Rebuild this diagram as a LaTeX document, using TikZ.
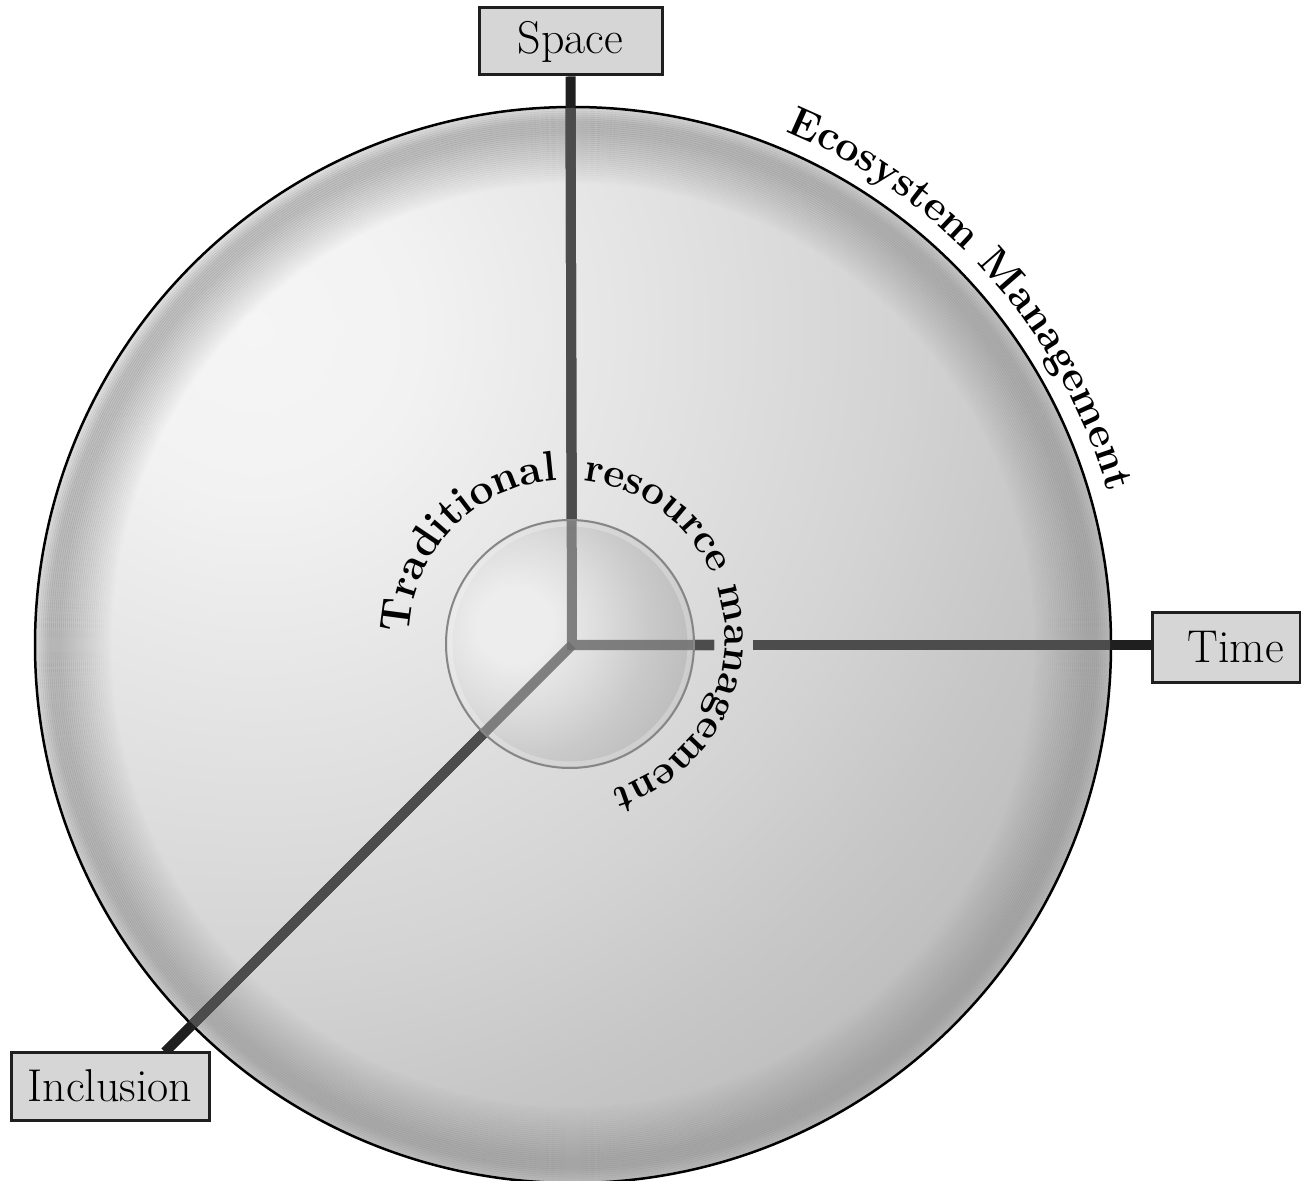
\documentclass[tikz,border=0pt]{standalone}
\usetikzlibrary{decorations.text}
\definecolor{linedark}{gray}{0.12}
\definecolor{linemid}{gray}{0.30}
\definecolor{linelight}{gray}{0.43}
\definecolor{boxfill}{gray}{0.84}
\definecolor{boxline}{gray}{0.12}
\definecolor{rimgray}{gray}{0.56}
\definecolor{bsa}{gray}{0.96}
\definecolor{bsb}{gray}{0.95}
\definecolor{bsc}{gray}{0.90}
\definecolor{bsd}{gray}{0.83}
\definecolor{bse}{gray}{0.78}
\definecolor{bsf}{gray}{0.75}
\definecolor{bsg}{gray}{0.685}
\definecolor{bsh}{gray}{0.655}
\definecolor{bsi}{gray}{0.645}
\definecolor{ssa}{gray}{0.93}
\definecolor{ssb}{gray}{0.86}
\definecolor{ssc}{gray}{0.79}
\definecolor{ssd}{gray}{0.72}
\definecolor{sse}{gray}{0.64}
\definecolor{ssf}{gray}{0.58}
% centred radial shadings (50bp = outer radius of the shaded disc)
\pgfdeclareradialshading{bigsphere}{\pgfpointorigin}{color(0bp)=(bsa); color(4bp)=(bsb); color(9bp)=(bsc); color(16bp)=(bsd); color(20bp)=(bse); color(23bp)=(bsf); color(33bp)=(bsg); color(42bp)=(bsh); color(50bp)=(bsi)}
\pgfdeclareradialshading{smallsphere}{\pgfpointorigin}{color(0bp)=(ssa); color(5bp)=(ssa); color(12bp)=(ssb); color(18bp)=(ssc); color(27bp)=(ssd); color(37bp)=(sse); color(45bp)=(ssf); color(50bp)=(ssf)}
\newcommand\trmfont{\fontsize{20.5}{25}\selectfont\bfseries}
\newcommand\trmbig{\fontsize{21.25}{25}\selectfont\bfseries}
\newcommand\ecofont{\fontsize{21}{25}\selectfont\bfseries}
\newcommand\boxfont{\fontsize{23}{27}\selectfont}
\pgfdeclarelayer{back}
\pgfsetlayers{back,main}
\begin{document}
\begin{tikzpicture}[x=0.5pt,y=0.5pt,
  labelbox/.style={draw=boxline, fill=boxfill, line width=1.5pt, inner sep=0pt, font=\boxfont},
  axis/.style={line width=5pt, draw=linedark},
  curvedtext/.style={decorate, decoration={text along path, text={#1}, text align=left}}]
\useasboundingbox (0,0) rectangle (1301,-1181);
\coordinate (O) at (572,-645);
\coordinate (C) at (573,-645);
\coordinate (c) at (570,-644);
\coordinate (H) at (255,-330);
\coordinate (h) at (515,-625);
\coordinate (gapL) at (714,-645);
\coordinate (gapR) at (753,-645);
\coordinate (iend) at (165,-1052);
% boxes
\node[labelbox, minimum width=91.5pt, minimum height=33.5pt] (space) at (570.5,-41.5) {Space};
\node[labelbox, minimum width=74pt, minimum height=34.5pt] (time) at (1226,-647.5) {\hspace*{9.5pt}Time};
\node[labelbox, minimum width=99pt, minimum height=34pt] (incl) at (110,-1086) {Inclusion};
\begin{pgfonlayer}{back}
  % big sphere
  \begin{scope}
    \clip (C) circle[radius=538];
    \shade[shading=bigsphere] (H) circle[radius=1000];
    \foreach \d in {1,3,...,79} {
      \pgfmathsetmacro\o{0.5*min(1,(\d+4)/18)*max(0,1-max(0,\d-25)/52)}
      \draw[rimgray, line width=1.2pt, draw opacity=\o] (C) circle[radius=538-\d];
    }
  \end{scope}
  \draw[line width=1.25pt, black] (C) circle[radius=538];
  % axes
  \draw[axis] (space.south) -- (O) -- (gapL);
  \draw[axis] (gapR) -- (gapR -| time.west);
  \draw[axis] (O) -- (iend);
  \begin{scope}
    \clip (C) circle[radius=537];
    \draw[axis, draw=linemid] (space.south) -- (O) -- (gapL);
    \draw[axis, draw=linemid] (gapR) -- (gapR -| time.west);
    \draw[axis, draw=linemid] (O) -- (iend);
  \end{scope}
  % small sphere
  \begin{scope}
    \clip (c) circle[radius=124];
    \shade[shading=smallsphere] (h) circle[radius=185];
    \draw[white, line width=2.5pt, draw opacity=0.25] (c) circle[radius=120];
    \draw[axis, draw=linelight, draw opacity=0.85] (space.south) -- (O) -- (gapL);
    \draw[axis, draw=linelight, draw opacity=0.85] (O) -- (iend);
  \end{scope}
  \draw[line width=1pt, gray!95] (c) circle[radius=124];
\end{pgfonlayer}
% curved texts
\path[curvedtext={|\trmbig|Traditional}] ([shift={(567,-638)}]178.5:158) arc[start angle=178.5, end angle=80, radius=158];
\path[curvedtext={|\trmfont|resource}] ([shift={(567,-638)}]84.2:158) arc[start angle=84.2, end angle=10, radius=158];
\path[curvedtext={|\trmfont|management}] ([shift={(567,-638)}]19:158) arc[start angle=19, end angle=-100, radius=158];
\path[curvedtext={|\ecofont|Ecosystem Management}] ([shift={(573,-645)}]67.5:556) arc[start angle=67.5, end angle=5, radius=556];
\end{tikzpicture}
\end{document}
